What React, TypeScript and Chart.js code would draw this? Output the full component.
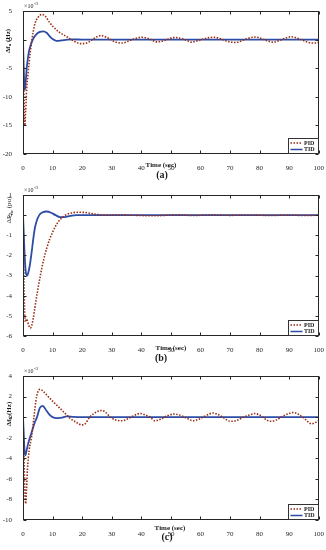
import React, { useEffect, useRef } from "react";
import { Chart, registerables } from "chart.js";

Chart.register(...registerables);

// ---------- data (values in units of 1e-3) ----------
const xTicks = [0, 10, 20, 30, 40, 50, 60, 70, 80, 90, 100];

const pidA_t = [0, 0.3, 0.6, 0.9, 1.25, 1.7, 2.1, 2.5, 2.9, 3.4, 4.05, 5, 6.3, 7.5, 9, 10.2, 12, 14.8, 17, 19.5, 21.5, 23.5, 25, 26.4, 28, 30, 31.5, 33.5, 35.5, 37.5, 40, 42, 43.5, 45, 47, 49, 50.8, 52.5, 55, 57, 59, 61, 62.5, 64.5, 66.5, 68.5, 71.8, 74, 76, 78.6, 80.5, 82.5, 84.5, 86.5, 88.5, 90.7, 92.5, 94.5, 96.5, 98.6, 100];
const pidA_v = [0, -9, -15, -12.5, -8.5, -6, -3.9, -2.0, -0.4, 1.2, 2.85, 3.8, 4.4, 4.1, 3.0, 2.25, 1.4, 0.5, -0.2, -0.7, -0.6, 0.0, 0.5, 0.7, 0.45, -0.1, -0.45, -0.6, -0.3, 0.1, 0.4, 0.25, -0.05, -0.4, -0.3, 0.05, 0.35, 0.3, -0.05, -0.45, -0.2, 0.1, 0.3, 0.4, 0.2, -0.2, -0.5, -0.2, 0.2, 0.45, 0.2, -0.2, -0.45, -0.2, 0.2, 0.5, 0.3, -0.1, -0.5, -0.6, -0.45];
const tidA_t = [0, 0.2, 0.45, 0.65, 0.9, 1.25, 1.6, 2.0, 2.7, 3.5, 4.5, 5.5, 6.8, 8, 9, 10, 11.4, 13, 15, 17, 20, 100];
const tidA_v = [0, -4.5, -8, -8.8, -7.5, -5.0, -3.5, -2.1, -0.8, 0.2, 0.9, 1.3, 1.45, 1.2, 0.6, 0.1, -0.24, -0.15, 0, 0.03, 0, 0];

const pidB_t = [0, 0.2, 0.4, 0.6, 0.9, 1.2, 1.6, 2.0, 2.5, 3.0, 3.5, 4.0, 5.0, 6.0, 7.0, 8.0, 9.0, 10, 11, 12, 13, 14, 15, 16.5, 18, 20, 22, 24, 26, 28, 33, 38, 45, 52, 58, 63, 70, 77, 84, 90, 95, 100];
const pidB_v = [0, -1.8, -3.8, -5.0, -5.3, -5.15, -5.3, -5.5, -5.6, -5.45, -5.1, -4.6, -3.7, -2.9, -2.2, -1.65, -1.2, -0.85, -0.55, -0.32, -0.15, -0.04, 0.05, 0.11, 0.14, 0.14, 0.11, 0.06, 0.02, 0, 0.02, -0.01, -0.03, 0.02, -0.02, 0.02, -0.01, 0.01, -0.02, 0.01, -0.02, 0];
const tidB_t = [0, 0.25, 0.5, 0.8, 1.1, 1.4, 1.8, 2.3, 3.0, 3.5, 4.0, 4.6, 5.5, 6.5, 8, 9.5, 11, 12.5, 14, 16, 18, 100];
const tidB_v = [0, -0.9, -1.8, -2.6, -2.95, -3.0, -2.85, -2.5, -1.75, -1.15, -0.65, -0.3, 0, 0.13, 0.18, 0.12, 0, -0.1, -0.1, -0.04, 0, 0];

const pidC_t = [0, 0.3, 0.6, 0.9, 1.2, 1.5, 2.1, 2.9, 3.7, 4.6, 5.7, 6.5, 8, 10.2, 12, 13.6, 15.9, 18, 19.8, 21, 22.6, 24.5, 26.6, 28, 29.5, 31.6, 33.5, 35.5, 37.5, 39.5, 41.5, 43, 44.6, 46.5, 48.5, 51.3, 53, 55, 57.6, 59.5, 61.5, 64.3, 66, 68, 70, 72, 74.5, 76.5, 78.4, 80, 82, 83.5, 85.5, 87.5, 89.5, 91.3, 93, 95, 97.6, 99, 100];
const pidC_v = [0, -3.5, -7.0, -8.4, -7.0, -5.1, -3.2, -1.9, 0, 2.0, 2.7, 2.6, 2.15, 1.5, 1.0, 0.55, -0.1, -0.5, -0.75, -0.65, 0, 0.45, 0.65, 0.45, 0, -0.3, -0.35, -0.15, 0.15, 0.35, 0.2, 0, -0.35, -0.2, 0.1, 0.3, 0.2, -0.05, -0.35, -0.2, 0.1, 0.4, 0.25, -0.1, -0.4, -0.35, 0, 0.2, 0.35, 0.2, -0.2, -0.4, -0.3, 0.05, 0.3, 0.45, 0.3, -0.1, -0.65, -0.5, -0.35];
const tidC_t = [0, 0.3, 0.55, 0.8, 1.1, 1.8, 2.9, 4.0, 4.6, 5.7, 6.6, 8, 9.1, 10, 11.4, 13, 14.8, 17, 20, 100];
const tidC_v = [0, -2.0, -3.4, -3.7, -3.4, -2.5, -1.5, -0.5, -0.1, 0.9, 1.1, 0.6, 0.2, 0, -0.1, -0.05, 0.08, 0.03, 0, 0];

const legendLabels = ["PID", "TID"];
const PID_COLOR = "#9a2e16";
const TID_COLOR = "#2d4ca6";
const SERIF = "'Liberation Serif', 'Times New Roman', serif";

const pts = (t: number[], v: number[]) => t.map((x, i) => ({ x, y: v[i] }));

type PanelSpec = {
  top: number; h: number; plotTop: number; plotBottom: number;
  yMin: number; yMax: number; yStep: number;
  pidT: number[]; pidV: number[]; tidT: number[]; tidV: number[];
  yMain: string; ySub: string; yTail: string; yBold: boolean; yLabelX: number; yLabelY: number;
  titleX: number; titleY: number; panel: string; panelX: number; panelY: number;
};

const panels: PanelSpec[] = [
  { top: 0, h: 185, plotTop: 11, plotBottom: 154, yMin: -20, yMax: 5, yStep: 5,
    pidT: pidA_t, pidV: pidA_v, tidT: tidA_t, tidV: tidA_v,
    yMain: "Δf", ySub: "a", yTail: " (Hz)", yBold: true, yLabelX: 8, yLabelY: 41,
    titleX: 161, titleY: 165, panel: "(a)", panelX: 162, panelY: 175 },
  { top: 183, h: 182, plotTop: 12, plotBottom: 153, yMin: -6, yMax: 1, yStep: 1,
    pidT: pidB_t, pidV: pidB_v, tidT: tidB_t, tidV: tidB_v,
    yMain: "ΔP", ySub: "tie", yTail: " (pu)", yBold: false, yLabelX: 9, yLabelY: 27,
    titleX: 171, titleY: 165, panel: "(b)", panelX: 161, panelY: 175 },
  { top: 365, h: 185, plotTop: 11, plotBottom: 155, yMin: -10, yMax: 4, yStep: 2,
    pidT: pidC_t, pidV: pidC_v, tidT: tidC_t, tidV: tidC_v,
    yMain: "Δf", ySub: "b", yTail: " (Hz)", yBold: true, yLabelX: 9, yLabelY: 49,
    titleX: 170, titleY: 163, panel: "(c)", panelX: 167, panelY: 172 },
];

const decor = {
  id: "decor",
  afterDraw(chart: any, _args: any, o: any) {
    const { ctx, chartArea: a, scales } = chart;
    const L = Math.round(a.left) + 0.5, R = Math.round(a.right) - 0.5;
    const T = Math.round(a.top) + 0.5, B = Math.round(a.bottom) - 0.5;
    ctx.save();
    ctx.strokeStyle = "#262626";
    ctx.lineWidth = 1;
    ctx.setLineDash([]);
    ctx.strokeRect(L, T, R - L, B - T);
    // inward ticks
    ctx.beginPath();
    scales.x.ticks.forEach((tk: any) => {
      const px = Math.round(scales.x.getPixelForValue(tk.value)) + 0.5;
      ctx.moveTo(px, B); ctx.lineTo(px, B - 3);
      ctx.moveTo(px, T); ctx.lineTo(px, T + 3);
    });
    scales.y.ticks.forEach((tk: any) => {
      const py = Math.round(scales.y.getPixelForValue(tk.value)) + 0.5;
      ctx.moveTo(L, py); ctx.lineTo(L + 3, py);
      ctx.moveTo(R, py); ctx.lineTo(R - 3, py);
    });
    ctx.stroke();

    ctx.fillStyle = "#1a1a1a";
    // exponent
    ctx.font = `6px ${SERIF}`;
    ctx.textAlign = "left";
    ctx.textBaseline = "alphabetic";
    const ex = a.left + 1, ey = a.top - 3;
    ctx.fillText("×10", ex, ey);
    const w10 = ctx.measureText("×10").width;
    ctx.font = `5px ${SERIF}`;
    ctx.fillText("-3", ex + w10 + 0.5, ey - 3);

    // y label (rotated with subscript)
    const wt = o.yBold ? "bold " : "";
    const mainFont = `${wt}7px ${SERIF}`, subFont = `${wt}5px ${SERIF}`;
    ctx.font = mainFont;
    const w1 = ctx.measureText(o.yMain).width;
    const w3 = ctx.measureText(o.yTail).width;
    ctx.font = subFont;
    const w2 = ctx.measureText(o.ySub).width;
    const total = w1 + w2 + w3;
    ctx.save();
    ctx.translate(o.yLabelX, o.yLabelY);
    ctx.rotate(-Math.PI / 2);
    ctx.textBaseline = "middle";
    let cx = -total / 2;
    ctx.font = mainFont; ctx.fillText(o.yMain, cx, 0); cx += w1;
    ctx.font = subFont; ctx.fillText(o.ySub, cx, 2.2); cx += w2;
    ctx.font = mainFont; ctx.fillText(o.yTail, cx, 0);
    ctx.restore();

    // x title
    ctx.font = `bold 7px ${SERIF}`;
    ctx.textAlign = "center";
    ctx.textBaseline = "middle";
    ctx.fillText("Time (sec)", o.titleX, o.titleY);
    // panel label
    ctx.font = `bold 10px ${SERIF}`;
    ctx.fillText(o.panel, o.panelX, o.panelY);

    // legend
    const lw = 31, lh = 16;
    const lx = Math.round(a.right) - lw + 0.5, ly = Math.round(a.bottom) - lh + 0.5;
    ctx.fillStyle = "#ffffff";
    ctx.fillRect(lx, ly, lw - 1, lh - 1);
    ctx.strokeStyle = "#333";
    ctx.strokeRect(lx, ly, lw - 1, lh - 1);
    const rows = [ly + 4.5, ly + 11];
    ctx.lineWidth = 1.5;
    ctx.strokeStyle = PID_COLOR;
    ctx.setLineDash([1.5, 1.5]);
    ctx.beginPath(); ctx.moveTo(lx + 2, rows[0]); ctx.lineTo(lx + 14, rows[0]); ctx.stroke();
    ctx.setLineDash([]);
    ctx.strokeStyle = TID_COLOR;
    ctx.beginPath(); ctx.moveTo(lx + 2, rows[1]); ctx.lineTo(lx + 14, rows[1]); ctx.stroke();
    ctx.fillStyle = "#1a1a1a";
    ctx.font = `bold 6px ${SERIF}`;
    ctx.textAlign = "left";
    ctx.fillText(legendLabels[0], lx + 15.5, rows[0]);
    ctx.fillText(legendLabels[1], lx + 15.5, rows[1]);
    ctx.restore();
  },
};

function Panel({ spec }: { spec: PanelSpec }) {
  const ref = useRef<HTMLCanvasElement | null>(null);
  useEffect(() => {
    if (!ref.current) return;
    const chart = new Chart(ref.current, {
      type: "line",
      data: {
        datasets: [
          {
            label: legendLabels[0],
            data: pts(spec.pidT, spec.pidV),
            borderColor: PID_COLOR,
            borderWidth: 1.6,
            borderDash: [1.5, 1.5],
            pointRadius: 0,
            cubicInterpolationMode: "monotone",
            fill: false,
          },
          {
            label: legendLabels[1],
            data: pts(spec.tidT, spec.tidV),
            borderColor: TID_COLOR,
            borderWidth: 1.8,
            pointRadius: 0,
            cubicInterpolationMode: "monotone",
            fill: false,
          },
        ],
      },
      options: {
        responsive: false,
        animation: false,
        events: [],
        layout: { padding: { top: spec.plotTop, right: 7, left: 0, bottom: 0 } },
        plugins: {
          legend: { display: false },
          tooltip: { enabled: false },
          decor: spec as any,
        } as any,
        scales: {
          x: {
            type: "linear",
            min: 0,
            max: 100,
            grid: { display: false },
            border: { display: false },
            afterBuildTicks: (s: any) => { s.ticks = xTicks.map((v) => ({ value: v })); },
            ticks: {
              autoSkip: false,
              maxRotation: 0,
              padding: 2,
              color: "#262626",
              font: { family: SERIF, size: 7 },
            },
            afterFit: (s: any) => { s.height = spec.h - spec.plotBottom; },
          },
          y: {
            type: "linear",
            min: spec.yMin,
            max: spec.yMax,
            grid: { display: false },
            border: { display: false },
            ticks: {
              stepSize: spec.yStep,
              padding: 3,
              color: "#262626",
              font: { family: SERIF, size: 7 },
            },
            afterFit: (s: any) => { s.width = 23; },
          },
        },
      },
      plugins: [decor],
    } as any);
    return () => chart.destroy();
  }, [spec]);
  return (
    <canvas
      ref={ref}
      width={326}
      height={spec.h}
      style={{ position: "absolute", left: 0, top: spec.top, width: 326, height: spec.h }}
    />
  );
}

export default function App() {
  return (
    <div style={{ position: "absolute", left: 0, top: 0, width: 326, height: 550, background: "#fff" }}>
      {panels.map((p, i) => (
        <Panel key={i} spec={p} />
      ))}
    </div>
  );
}
